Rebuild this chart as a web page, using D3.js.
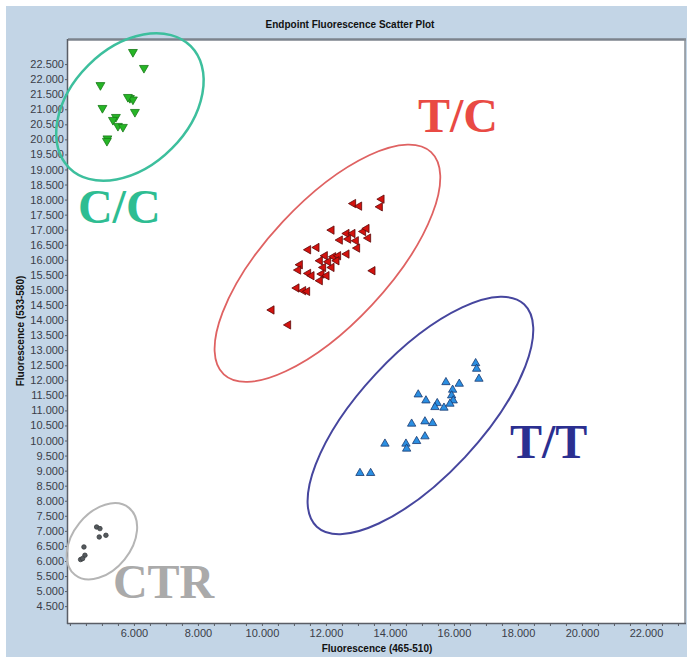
<!DOCTYPE html>
<html>
<head>
<meta charset="utf-8">
<script src="https://cdn.jsdelivr.net/npm/d3@7"></script>
<style>
  body { margin: 0; background: #fff; }
  svg { display: block; }
  .axis .tick text { font-family: "Liberation Sans", Arial, sans-serif; font-size: 11px; fill: #3a3d48; }
  .axis .tick line { stroke: #5a5e66; }
  .axis .domain { display: none; }
</style>
</head>
<body>
<svg id="chart"></svg>
<script>
// endpoint fluorescence per sample: [465-510, 533-580]
var ccPoints = [
  [5969, 22900], [6313, 22370], [4953, 21800], [5875, 21373], [5969, 21323],
  [5812, 21406], [6031, 20909], [5016, 21041], [5437, 20743], [5344, 20644],
  [5500, 20445], [5656, 20412], [5172, 20030], [5156, 19947]
];
var tcPoints = [
  [12853, 17869], [13041, 17783], [13741, 18015], [13688, 17760], [12178, 16987],
  [12647, 16874], [12834, 16874], [13166, 16941], [13272, 17040], [12438, 16656],
  [12697, 16689], [12938, 16632], [13322, 16722], [12978, 16390], [11447, 16334],
  [11709, 16410], [12647, 16192], [11969, 16135], [12228, 16102], [12384, 16135],
  [11813, 15969], [12072, 15936], [12334, 15969], [12178, 15747], [11188, 15837],
  [11916, 15747], [13459, 15638], [11134, 15661], [11447, 15549], [11553, 15472],
  [11866, 15529], [12022, 15472], [11813, 15307], [11084, 15064], [11291, 14975],
  [11416, 14952], [10303, 14335], [10822, 13838]
];
var ttPoints = [
  [16678, 12565], [16709, 12379], [16781, 12048], [15750, 11935], [16166, 11882],
  [15959, 11683], [15928, 11494], [15978, 11328], [14884, 11527], [15125, 11328],
  [15478, 11239], [15406, 11106], [15688, 11087], [15875, 11219], [14678, 10556],
  [15094, 10632], [15334, 10576], [15094, 10135], [14834, 9979], [14500, 9893],
  [14522, 9727], [13844, 9893], [13063, 8918], [13397, 8918]
];
var ctrPoints = [
  [4834, 7128], [4938, 7075], [4916, 6797], [5125, 6853],
  [4438, 6465], [4469, 6190], [4334, 6047], [4397, 6080]
];

// axis ticks
var yTickValues = d3.range(4500, 23000, 500);
var xLabelValues = d3.range(6000, 23000, 2000);
var xMinorValues = d3.range(4000, 23001, 500);

// genotype call labels and their rings (centres in data units)
var genotypeNames = ["C/C", "T/C", "T/T", "CTR"];
var ringCentres = [[5875, 21075], [12047, 15887], [14953, 10831], [5000, 6654]];
var labelAnchors = [[4250, 17229], [14875, 20246], [17750, 9406], [5344, 4765]];

var width = 687,
  height = 657;

var svg = d3.select("#chart").attr("width", width).attr("height", height);

var x = d3.scaleLinear().domain([3940, 23220]).range([68, 685]);
var y = d3.scaleLinear().domain([3940, 23300]).range([623, 40]);

// "22.500" style numbers
var fmt = d3.formatLocale({ decimal: ",", thousands: ".", grouping: [3], currency: ["", ""] }).format(",");

// window background + plot area
svg.append("rect").attr("x", 6).attr("y", 6).attr("width", width - 6).attr("height", height - 6).attr("fill", "#c3d5e6");
svg.append("rect").attr("x", 68).attr("y", 40).attr("width", 617).attr("height", 583).attr("fill", "#fff");

svg.append("text")
  .attr("x", 350).attr("y", 28)
  .attr("text-anchor", "middle")
  .style("font-family", "'Liberation Sans', Arial, sans-serif")
  .style("font-weight", "bold")
  .style("font-size", "10px")
  .attr("fill", "#111")
  .text("Endpoint Fluorescence Scatter Plot");

// axes
svg.append("g")
  .attr("class", "axis")
  .attr("transform", "translate(68,0)")
  .call(d3.axisLeft(y).tickValues(yTickValues).tickSize(3).tickPadding(1).tickFormat(fmt));

svg.append("g")
  .attr("class", "axis")
  .attr("transform", "translate(0,623)")
  .call(d3.axisBottom(x).tickValues(xMinorValues).tickSize(3).tickFormat(""));

svg.append("g")
  .attr("class", "axis")
  .attr("transform", "translate(0,623)")
  .call(d3.axisBottom(x).tickValues(xLabelValues).tickSize(0).tickPadding(6).tickFormat(fmt));

// plot frame
svg.append("line").attr("x1", 68).attr("x2", 686).attr("y1", 39.5).attr("y2", 39.5).attr("stroke", "#7c838d").attr("stroke-width", 2.5);
svg.append("line").attr("x1", 685).attr("x2", 685).attr("y1", 39).attr("y2", 623).attr("stroke", "#8a8f96").attr("stroke-width", 1.5);
svg.append("line").attr("x1", 67.5).attr("x2", 67.5).attr("y1", 39).attr("y2", 624).attr("stroke", "#5a5e66").attr("stroke-width", 1.5);
svg.append("line").attr("x1", 67).attr("x2", 686).attr("y1", 623.5).attr("y2", 623.5).attr("stroke", "#5a5e66").attr("stroke-width", 1.5);

svg.append("text")
  .attr("x", 377).attr("y", 652)
  .attr("text-anchor", "middle")
  .style("font-family", "'Liberation Sans', Arial, sans-serif")
  .style("font-weight", "bold")
  .style("font-size", "10px")
  .attr("fill", "#111")
  .text("Fluorescence (465-510)");

svg.append("text")
  .attr("transform", "translate(24,331) rotate(-90)")
  .attr("text-anchor", "middle")
  .style("font-family", "'Liberation Sans', Arial, sans-serif")
  .style("font-weight", "bold")
  .style("font-size", "10px")
  .attr("fill", "#111")
  .text("Fluorescence (533-580)");

// markers
var groups = [
  { points: ccPoints, rotate: 180, fill: "#26b526", stroke: "#177a17", shape: d3.symbolTriangle, size: 34 },
  { points: tcPoints, rotate: -90, fill: "#d3120e", stroke: "#5c0808", shape: d3.symbolTriangle, size: 30 },
  { points: ttPoints, rotate: 0, fill: "#2b8fe2", stroke: "#1b3a70", shape: d3.symbolTriangle, size: 30 },
  { points: ctrPoints, rotate: 0, fill: "#555a5e", stroke: "#3a3d40", shape: d3.symbolCircle, size: 16 }
];

groups.forEach(function (g) {
  svg.append("g")
    .selectAll("path")
    .data(g.points)
    .enter()
    .append("path")
    .attr("d", d3.symbol().type(g.shape).size(g.size))
    .attr("transform", function (d) {
      return `translate(${x(d[0])},${y(d[1])}) rotate(${g.rotate})`;
    })
    .attr("fill", g.fill)
    .attr("stroke", g.stroke)
    .attr("stroke-width", 0.8);
});

// hand drawn rings round each call
var ringStyles = [
  { rx: 86, ry: 59, angle: -45, color: "#3dbf9d", width: 2.5 },
  { rx: 152, ry: 61, angle: -47, color: "#df6262", width: 1.8 },
  { rx: 152, ry: 61, angle: -47, color: "#46469e", width: 2 },
  { rx: 43, ry: 29, angle: -51, color: "#b5b5b5", width: 2 }
];
var labelColors = ["#2ebd92", "#e94a44", "#2b2f90", "#aaaaaa"];

svg.append("g")
  .selectAll("ellipse")
  .data(ringCentres)
  .enter()
  .append("ellipse")
  .attr("transform", function (d, i) {
    return `translate(${x(d[0])},${y(d[1])}) rotate(${ringStyles[i].angle})`;
  })
  .attr("rx", (d, i) => ringStyles[i].rx)
  .attr("ry", (d, i) => ringStyles[i].ry)
  .attr("fill", "none")
  .attr("stroke", (d, i) => ringStyles[i].color)
  .attr("stroke-width", (d, i) => ringStyles[i].width);

svg.append("g")
  .selectAll("text")
  .data(labelAnchors)
  .enter()
  .append("text")
  .attr("x", (d) => x(d[0]))
  .attr("y", (d) => y(d[1]))
  .style("font-family", "'Liberation Serif', 'Times New Roman', serif")
  .style("font-weight", "bold")
  .style("font-size", "48px")
  .attr("fill", (d, i) => labelColors[i])
  .text((d, i) => genotypeNames[i]);
</script>
</body>
</html>
